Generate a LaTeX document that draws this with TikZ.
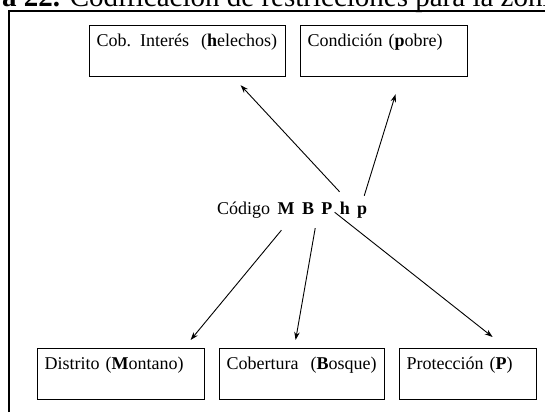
\documentclass[tikz,border=0pt]{standalone}
\usepackage{fontspec}
\setmainfont{Liberation Serif}
\usetikzlibrary{arrows.meta}
\tikzstyle{box} = [rectangle, draw=black, line width=1.2pt, anchor=north west, align=left, inner xsep=7pt, inner ysep=0pt, text height=21pt, text depth=30pt, font=\fontsize{18}{21}\selectfont]
\tikzstyle{letter} = [inner sep=0pt, anchor=base west, text height=12pt, text depth=0pt, font=\fontsize{18}{21}\selectfont]
\tikzstyle{arrow} = [line width=0.9pt,-{Stealth[length=8pt,width=5.5pt]}]

\begin{document}
\begin{tikzpicture}[x=1pt,y=1pt]
\useasboundingbox (0,0) rectangle (545,412);
\node (title) [anchor=base west, inner sep=0pt, font=\fontsize{29}{33}\selectfont] at (2,405) {\textbf{a 22.} Codificación de restricciones para la zoni};
\draw [line width=1.6pt] (9,0) -- (9,401) -- (545,401);
% top row
\node (cob) [box, text width=182pt] at (89,387) {Cob. Interés~~(\textbf{h}elechos)};
\node (cond) [box, text width=153pt] at (300,387) {Condición (\textbf{p}obre)};
% code
\node (cod) [letter] at (217,197) {Código};
\node (M) [letter] at ([xshift=7pt]cod.base east) {\textbf{M}};
\node (B) [letter] at ([xshift=7pt]M.base east) {\textbf{B}};
\node (P) [letter] at ([xshift=7pt]B.base east) {\textbf{P}};
\node (h) [letter] at ([xshift=7pt]P.base east) {\textbf{h}};
\node (p) [letter] at ([xshift=7pt]h.base east) {\textbf{p}};
% bottom row
\node (dist) [box, text width=153pt] at (37,64) {Distrito (\textbf{M}ontano)};
\node (cobe) [box, text width=151pt] at (219,64) {Cobertura~~(\textbf{B}osque)};
\node (prot) [box, text width=123pt] at (399,64) {Protección (\textbf{P})};
\draw [arrow] ([yshift=11pt]h.north west) -- ([shift={(53pt,-8pt)}]cob.south);
\draw [arrow] ([shift={(2pt,7pt)}]p.north) -- ([shift={(11.5pt,-17pt)}]cond.south);
\draw [arrow] ([shift={(4pt,-15pt)}]M.south west) -- ([shift={(69.5pt,8pt)}]dist.north);
\draw [arrow] ([shift={(1pt,-13pt)}]B.south east) -- ([shift={(-6.5pt,8pt)}]cobe.north);
\draw [arrow] ([shift={(2pt,3pt)}]P.south east) -- ([shift={(24.5pt,11pt)}]prot.north);
\end{tikzpicture}
\end{document}
